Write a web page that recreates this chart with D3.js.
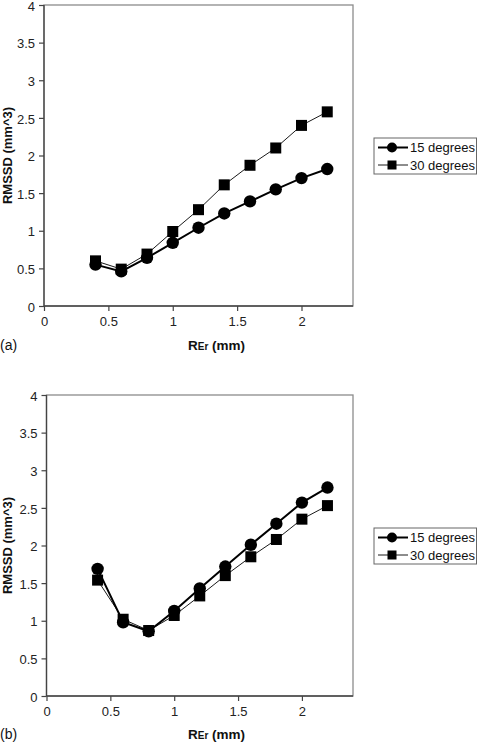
<!DOCTYPE html>
<html><head><meta charset="utf-8">
<script src="https://cdn.jsdelivr.net/npm/d3@7/dist/d3.min.js"></script>
<style>body{margin:0;background:#fff}svg{display:block;font-family:"Liberation Sans",Arial,sans-serif}</style>
</head><body><svg id="c" width="478" height="744"></svg>
<script>
const xValues = [0.4, 0.6, 0.8, 1.0, 1.2, 1.4, 1.6, 1.8, 2.0, 2.2];
const seriesNames = ["15 degrees", "30 degrees"];
const panelA15 = [0.55, 0.46, 0.64, 0.84, 1.04, 1.23, 1.39, 1.55, 1.70, 1.82];
const panelA30 = [0.60, 0.49, 0.69, 0.99, 1.28, 1.61, 1.87, 2.10, 2.40, 2.58];
const panelB15 = [1.69, 0.98, 0.86, 1.13, 1.43, 1.72, 2.01, 2.29, 2.57, 2.77];
const panelB30 = [1.54, 1.02, 0.87, 1.07, 1.33, 1.60, 1.85, 2.08, 2.35, 2.53];
const xTicks = [0, 0.5, 1, 1.5, 2];
const yTicks = [0, 0.5, 1, 1.5, 2, 2.5, 3, 3.5, 4];
const panelLabels = ["(a)", "(b)"];

const svg = d3.select("#c");

function panel(cfg, s15, s30, label) {
  const x = d3.scaleLinear().domain([0, 2.4]).range([cfg.left, cfg.right]);
  const y = d3.scaleLinear().domain([0, 4]).range([cfg.bottom, cfg.top]);
  const g = svg.append("g");
  g.append("rect").attr("x", cfg.left).attr("y", cfg.top)
    .attr("width", cfg.right - cfg.left).attr("height", cfg.bottom - cfg.top)
    .attr("fill", "none").attr("stroke", "#8c8c8c").attr("stroke-width", 1.3);
  const ya = g.append("g").attr("transform", `translate(${cfg.left},0)`)
    .call(d3.axisLeft(y).tickValues(yTicks).tickSize(5).tickPadding(4).tickFormat(d3.format("")));
  const xa = g.append("g").attr("transform", `translate(0,${cfg.bottom})`)
    .call(d3.axisBottom(x).tickValues(xTicks).tickSize(5).tickPadding(6).tickFormat(d3.format("")));
  [ya, xa].forEach(a => {
    a.select(".domain").attr("stroke", "#444").attr("stroke-width", 1.3);
    a.selectAll(".tick line").attr("stroke", "#444").attr("stroke-width", 1.2);
    a.selectAll("text").attr("font-size", 13).attr("fill", "#222")
      .attr("font-family", "Liberation Sans, Arial, sans-serif");
  });
  ya.selectAll("text").attr("dy", "0.4em");
  xa.select(".domain").attr("d", `M${cfg.left},0H${cfg.right}`);
  ya.select(".domain").attr("d", `M0,${cfg.bottom}V${cfg.top}`);

  const line = d3.line().x((d, i) => x(xValues[i])).y(d => y(d));
  g.append("path").datum(s30).attr("d", line).attr("fill", "none")
    .attr("stroke", "#000").attr("stroke-width", 0.9);
  g.selectAll(".sq").data(s30).enter().append("rect")
    .attr("x", (d, i) => x(xValues[i]) - 5.5).attr("y", d => y(d) - 5.5)
    .attr("width", 11).attr("height", 11).attr("fill", "#000");
  g.append("path").datum(s15).attr("d", line).attr("fill", "none")
    .attr("stroke", "#000").attr("stroke-width", 2);
  g.selectAll(".ci").data(s15).enter().append("circle")
    .attr("cx", (d, i) => x(xValues[i])).attr("cy", d => y(d)).attr("r", 6.2).attr("fill", "#000");

  g.append("text").attr("transform", `translate(${cfg.ylabX},${(cfg.top + cfg.bottom) / 2}) rotate(-90)`)
    .attr("text-anchor", "middle").attr("font-size", 13).attr("font-weight", "bold")
    .attr("fill", "#111").text("RMSSD (mm^3)");
  const xl = g.append("text").attr("x", 188).attr("y", cfg.xlabY)
    .attr("font-weight", "bold").attr("fill", "#111");
  xl.append("tspan").attr("font-size", 13.5).text("R");
  xl.append("tspan").attr("font-size", 10).text("Er");
  xl.append("tspan").attr("font-size", 13.5).text(" (mm)");
  g.append("text").attr("x", 0).attr("y", cfg.xlabY).attr("font-size", 14)
    .attr("fill", "#111").text(label);

  const lg = g.append("g");
  lg.append("rect").attr("x", 374).attr("y", cfg.legTop).attr("width", 102.5).attr("height", 36)
    .attr("fill", "#fff").attr("stroke", "#666").attr("stroke-width", 1);
  const rows = [cfg.legTop + 9.5, cfg.legTop + 27];
  [0, 1].forEach(k => {
    const yy = rows[k];
    lg.append("line").attr("x1", 378).attr("x2", 408).attr("y1", yy).attr("y2", yy)
      .attr("stroke", "#000").attr("stroke-width", k === 0 ? 2 : 0.9);
    if (k === 0) lg.append("circle").attr("cx", 392).attr("cy", yy).attr("r", 5).attr("fill", "#000");
    else lg.append("rect").attr("x", 387.5).attr("y", yy - 4.5).attr("width", 9).attr("height", 9).attr("fill", "#000");
    lg.append("text").attr("x", 410).attr("y", yy + 4.5).attr("font-size", 13).attr("fill", "#111")
      .text(seriesNames[k]);
  });
}

panel({left: 44, right: 353, top: 5, bottom: 306, ylabX: 12, xlabY: 350, legTop: 138}, panelA15, panelA30, panelLabels[0]);
panel({left: 46.5, right: 353, top: 395, bottom: 696, ylabX: 12, xlabY: 739, legTop: 528}, panelB15, panelB30, panelLabels[1]);
</script></body></html>
